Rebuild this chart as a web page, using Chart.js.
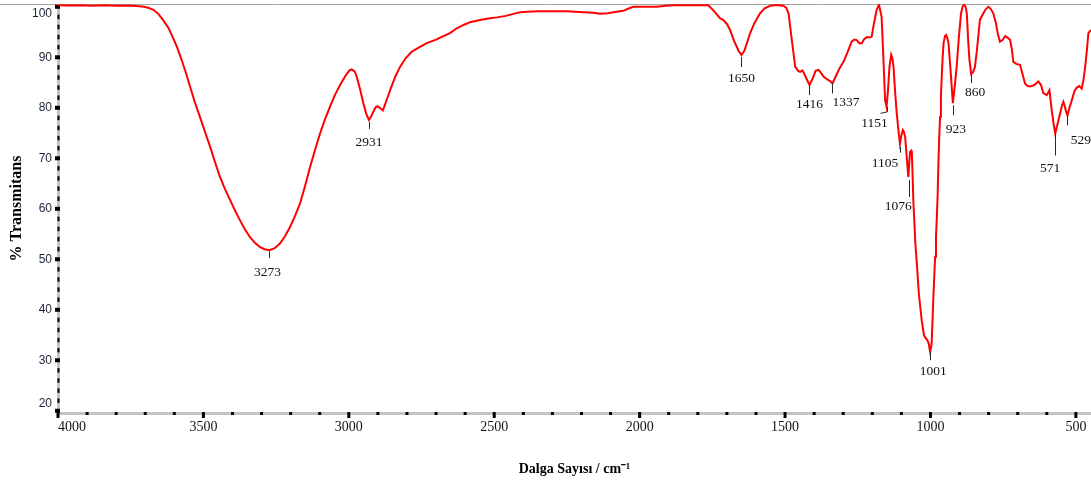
<!DOCTYPE html>
<html>
<head>
<meta charset="utf-8">
<script src="https://cdn.jsdelivr.net/npm/chart.js@4/dist/chart.umd.min.js"></script>
<style>
  html, body { margin: 0; padding: 0; background: #ffffff; overflow: hidden; }
  #wrap { width: 1091px; height: 484px; }
</style>
</head>
<body>
<div id="wrap"><canvas id="c" width="1091" height="484"></canvas></div>
<script>
// ---- data ----
const wavenumbers = [
  4000,3960,3920,3880,3840,3800,3760,3730,3705,3690,3672,3655,3639,3620,3604,3590,3575,3560,3546,3530,
  3512,3495,3477,3460,3443,3425,3408,3390,3374,3357,3340,3322,3305,3290,3273,3255,3237,3220,3202,3185,
  3168,3150,3133,3116,3099,3082,3065,3048,3030,3012,2998,2990,2980,2973,2962,2950,2940,2931,2924,2916,
  2908,2901,2892,2883,2870,2858,2840,2824,2805,2784,2760,2732,2700,2675,2652,2630,2606,2580,2549,2520,
  2491,2460,2434,2411,2388,2350,2308,2250,2194,2160,2136,2110,2080,2056,2040,2022,1980,1941,1910,1884,
  1820,1764,1745,1735,1723,1713,1700,1689,1675,1660,1650,1640,1630,1620,1605,1586,1570,1551,1530,1506,
  1496,1488,1478,1465,1455,1448,1440,1430,1416,1405,1395,1385,1375,1368,1355,1345,1337,1325,1312,1299,
  1285,1271,1262,1254,1245,1236,1228,1219,1210,1202,1195,1185,1177,1168,1162,1156,1151,1146,1141,1135,
  1131,1127,1122,1116,1110,1105,1100,1095,1091,1087,1082,1076,1073,1070,1066,1064,1061,1059,1055,1052,
  1046,1040,1035,1030,1026,1022,1016,1011,1006,1001,996,993,990,987,984,981,978,975,973,970,
  967,964,961,958,955,950,946,942,938,931,923,917,910,903,895,889,884,879,875,870,866,860,
  854,847,840,830,818,810,801,793,784,775,768,761,752,743,735,726,720,715,705,692,
  684,675,666,657,643,629,620,612,600,591,587,583,577,571,563,554,548,543,539,535,
  529,522,514,505,497,488,480,474,468,462,457,448
];
const transmittance = [
  100.3,100.25,100.3,100.2,100.28,100.2,100.25,100.15,100.0,99.8,99.4,98.6,97.4,95.8,93.8,91.9,89.5,86.9,84.2,81.2,
  78.2,75.3,72.3,69.2,66.3,63.8,61.7,59.5,57.7,55.9,54.4,53.2,52.4,52.0,51.8,52.2,53.1,54.5,56.4,58.6,
  61.0,64.6,68.3,71.7,74.9,77.7,80.2,82.5,84.5,86.3,87.4,87.6,87.2,86.2,83.8,80.9,78.8,77.6,78.2,79.2,
  80.1,80.3,79.9,79.5,81.5,83.5,86.2,88.1,89.8,91.1,91.9,92.8,93.5,94.2,94.8,95.7,96.4,97.0,97.4,97.7,
  97.9,98.2,98.6,98.9,99.0,99.1,99.1,99.1,98.9,98.8,98.6,98.7,99.0,99.2,99.6,100.0,100.0,100.0,100.2,100.3,
  100.3,100.3,99.2,98.5,97.7,97.4,96.6,95.4,93.2,91.3,90.45,91.3,93.0,94.8,96.8,98.7,99.7,100.2,100.35,100.2,
  99.8,98.7,94.0,88.1,87.3,87.1,87.4,86.2,84.5,85.8,87.3,87.5,86.8,86.2,85.6,85.3,84.8,86.3,87.9,89.1,
  91.0,93.1,93.5,93.4,92.8,92.8,93.6,94.0,93.9,94.1,96.5,99.4,100.4,98.0,90.0,81.5,80.2,83.5,88.1,90.5,
  89.8,88.1,83.5,78.9,75.5,72.9,74.5,75.6,75.2,74.2,70.5,66.3,69.0,71.3,71.5,71.0,66.0,61.7,57.0,53.1,
  48.5,43.2,40.5,37.9,36.3,34.9,34.4,34.0,33.3,31.6,33.3,37.8,42.5,46.5,50.5,54.5,58.5,63.3,68.3,74.0,
  78.2,82.5,86.5,90.0,92.8,94.2,94.4,93.8,92.8,87.5,80.9,84.0,88.1,93.5,98.7,100.1,100.4,100.0,98.7,93.0,89.5,86.7,
  87.0,88.1,91.5,97.4,98.7,99.5,100.0,99.6,98.7,96.8,94.5,93.1,93.4,94.2,93.9,93.4,91.5,89.1,88.7,88.5,
  86.8,84.8,84.3,84.2,84.5,85.2,84.5,82.9,82.5,83.5,81.5,79.5,77.0,74.9,76.8,78.9,80.4,81.2,80.5,79.5,
  78.5,80.0,81.5,83.3,84.0,84.3,83.8,85.5,88.1,91.5,94.8,95.4
];
const xTickValues = [4000, 3500, 3000, 2500, 2000, 1500, 1000, 500];
const yTickValues = [20, 30, 40, 50, 60, 70, 80, 90, 100];
const peakLabels = [3273, 2931, 1650, 1416, 1337, 1151, 1105, 1076, 1001, 923, 860, 571, 529];

// ---- label placement (layout only, in pixels relative to the peak) ----
const peakLayout = {
  3273: { lead: [[0,1],[0,8]], dx: -2, dy: 22 },
  2931: { lead: [[0,2],[0,9]], dx: 0, dy: 23 },
  1650: { lead: [[0,2],[0,12]], dx: 0, dy: 23 },
  1416: { lead: [[0,0],[0,10]], dx: 0, dy: 19 },
  1337: { lead: [[0,0],[0,10]], dx: 13.5, dy: 19 },
  1151: { lead: [[0,0],[0,5],[-7,6.6]], dx: -12, dy: 17 },
  1105: { lead: [[0,3],[0,9]], dx: -15, dy: 19.5 },
  1076: { lead: [[1,3],[1,20]], dx: -10, dy: 29 },
  1001: { lead: [[0,0],[0,8]], dx: 3, dy: 19 },
  923:  { lead: [[0,2],[0,12]], dx: 3, dy: 26 },
  860:  { lead: [[0,1],[0,9]], dx: 4, dy: 18.5 },
  571:  { lead: [[0,0],[0,22]], dx: -5, dy: 35 },
  529:  { lead: [[0,0],[0,10]], dx: 13.5, dy: 25 }
};

function valueAt(wn) {
  for (let i = 0; i < wavenumbers.length - 1; i++) {
    const a = wavenumbers[i], b = wavenumbers[i + 1];
    if (wn <= a && wn >= b) {
      const t = (a - wn) / (a - b);
      return transmittance[i] + t * (transmittance[i + 1] - transmittance[i]);
    }
  }
  return transmittance[transmittance.length - 1];
}

const axisDeco = {
  id: 'axisDeco',
  beforeDatasetsDraw(chart) {
    const { ctx, chartArea: a, scales: { x, y } } = chart;
    ctx.save();
    ctx.strokeStyle = '#a3a3a3';
    ctx.lineWidth = 1;
    ctx.beginPath();
    ctx.moveTo(0, a.top + 0.5);
    ctx.lineTo(chart.width, a.top + 0.5);
    ctx.stroke();
    ctx.fillStyle = '#c4c4c4';
    ctx.fillRect(a.left - 1, a.top, 3, a.bottom - a.top + 1);
    ctx.fillRect(a.left - 1, a.bottom - 1, a.right - a.left + 1, 3);
    ctx.fillStyle = '#000000';
    for (let v = 20; v <= 100; v += 2) {
      const py = y.getPixelForValue(v);
      if (v % 10 === 0) ctx.fillRect(a.left - 3, py - 2, 5, 4);
      else ctx.fillRect(a.left - 0.5, py - 2.25, 2, 4.5);
    }
    for (let v = 500; v <= 4000; v += 100) {
      const px = x.getPixelForValue(v);
      if (v % 500 === 0) ctx.fillRect(px - 1.5, a.bottom - 1, 3, 6);
      else ctx.fillRect(px - 1.5, a.bottom - 1, 3, 3);
    }
    ctx.restore();
  }
};

const peakMarks = {
  id: 'peakMarks',
  afterDatasetsDraw(chart) {
    const { ctx, scales: { x, y } } = chart;
    ctx.save();
    ctx.strokeStyle = '#2a2a2a';
    ctx.lineWidth = 1;
    ctx.fillStyle = '#111111';
    ctx.font = '13.5px "Liberation Serif", "Times New Roman", serif';
    ctx.textAlign = 'center';
    ctx.textBaseline = 'middle';
    peakLabels.forEach(wn => {
      const px = x.getPixelForValue(wn);
      const py = y.getPixelForValue(valueAt(wn));
      const L = peakLayout[wn];
      ctx.beginPath();
      L.lead.forEach((p, i) => {
        const lx = Math.round(px + p[0]) + 0.5, ly = py + p[1];
        if (i === 0) ctx.moveTo(lx, ly); else ctx.lineTo(lx, ly);
      });
      ctx.stroke();
      ctx.fillText(String(wn), px + L.dx, py + L.dy);
    });
    ctx.restore();
  }
};

const points = wavenumbers.map((w, i) => ({ x: w, y: transmittance[i] }));

new Chart(document.getElementById('c'), {
  type: 'line',
  data: {
    datasets: [{
      data: points,
      borderColor: '#ff0000',
      borderWidth: 2,
      pointRadius: 0,
      tension: 0,
      fill: false
    }]
  },
  options: {
    responsive: false,
    animation: false,
    devicePixelRatio: 1,
    layout: { padding: { top: 4, left: 0, right: 0, bottom: 0 }, autoPadding: false },
    plugins: { legend: { display: false }, tooltip: { enabled: false } },
    scales: {
      x: {
        type: 'linear',
        reverse: true,
        min: 448,
        max: 4000,
        afterBuildTicks: s => { s.ticks = xTickValues.map(v => ({ value: v })); },
        ticks: {
          autoSkip: false,
          maxRotation: 0,
          padding: 6,
          color: '#151515',
          font: { family: '"Liberation Serif", "Times New Roman", serif', size: 14, lineHeight: 1.2 },
          callback: v => (v === 4000 ? '        4000' : String(v))
        },
        grid: { display: false, drawTicks: false },
        border: { display: false },
        title: {
          display: true,
          text: 'Dalga Sayısı / cm⁻¹',
          color: '#000000',
          font: { family: '"Liberation Serif", "Times New Roman", serif', size: 14, weight: 'bold', lineHeight: 1.2 },
          padding: { top: 0, bottom: 6 }
        },
        afterFit: s => { s.height = 71; s.paddingLeft = 0; s.paddingRight = 0; }
      },
      y: {
        type: 'linear',
        min: 19.56,
        max: 100.55,
        afterBuildTicks: s => { s.ticks = yTickValues.map(v => ({ value: v })); },
        ticks: {
          padding: 6,
          color: '#1b2436',
          font: { family: '"Liberation Sans", Arial, sans-serif', size: 12, lineHeight: 1.2 },
          callback: v => (v === 100 ? ['', '100'] : (v === 20 ? ['20', ''] : String(v)))
        },
        grid: { display: false, drawTicks: false },
        border: { display: false },
        title: {
          display: true,
          text: '% Transmitans',
          color: '#000000',
          font: { family: '"Liberation Serif", "Times New Roman", serif', size: 16, weight: 'bold', lineHeight: 1.2 },
          padding: { top: 7, bottom: 0 }
        },
        afterFit: s => { s.width = 58; s.paddingTop = 0; s.paddingBottom = 0; }
      }
    }
  },
  plugins: [axisDeco, peakMarks]
});
</script>
</body>
</html>
